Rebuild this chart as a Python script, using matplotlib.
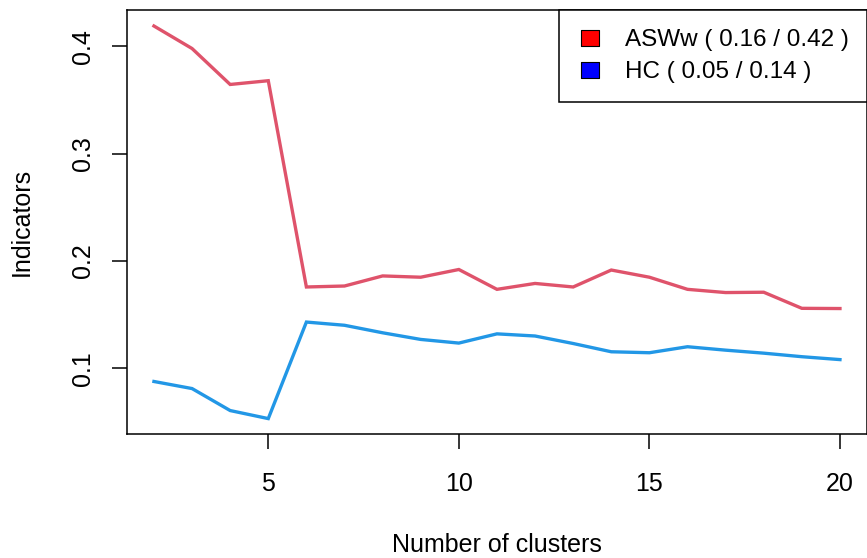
import matplotlib
matplotlib.use("Agg")
import matplotlib.pyplot as plt
from matplotlib.lines import Line2D
from matplotlib.path import Path

plt.rcParams['font.family'] = ['Liberation Sans', 'DejaVu Sans']

# Number of clusters evaluated
clusters = list(range(2, 21))

# Average silhouette width (weighted)
asww = [0.419, 0.398, 0.3645, 0.368, 0.1757, 0.1766, 0.186, 0.1848, 0.1920,
        0.1735, 0.1790, 0.1757, 0.1915, 0.1848, 0.1735, 0.1705, 0.1708,
        0.1558, 0.1556]

# Hubert's C
hc = [0.0876, 0.0810, 0.0605, 0.0530, 0.1430, 0.1400, 0.1330, 0.1268, 0.1234,
      0.1320, 0.1300, 0.1230, 0.1153, 0.1144, 0.1200, 0.1168, 0.1140,
      0.1107, 0.1080]

x_ticks = [5, 10, 15, 20]
y_ticks = [0.1, 0.2, 0.3, 0.4]

line_cols = ['#DF536B', '#2297E6']
legend_cols = ['#FF0000', '#0000FF']
labels = [f"ASWw ( {min(asww):.2f} / {max(asww):.2f} )",
          f"HC ( {min(hc):.2f} / {max(hc):.2f} )"]

W, H = 867, 558
fig = plt.figure(figsize=(W / 100, H / 100), dpi=100)
left, right, top, bottom = 126.5, 867.4, 10.3, 434.3
ax = fig.add_axes([left / W, 1 - bottom / H, (right - left) / W, (bottom - top) / H])

ax.plot(clusters, asww, color=line_cols[0], lw=2.4, solid_joinstyle='miter')
ax.plot(clusters, hc, color=line_cols[1], lw=2.4, solid_joinstyle='miter')

# R-style 4% padding on both axes
def padded(vals):
    lo, hi = min(vals), max(vals)
    d = (hi - lo) * 0.04
    return lo - d, hi + d

ax.set_xlim(*padded(clusters))
ax.set_ylim(*padded(asww + hc))

ax.set_xticks(x_ticks)
ax.set_xticklabels([str(t) for t in x_ticks])
ax.set_yticks(y_ticks)
ax.set_yticklabels([f"{t:.1f}" for t in y_ticks], rotation=90, va='center')

for s in ax.spines.values():
    s.set_linewidth(1.1)
    s.set_color('black')

ax.tick_params(axis='both', direction='out', length=11, width=1.1,
               labelsize=18, colors='black')
ax.tick_params(axis='x', pad=16.5)
ax.tick_params(axis='y', pad=12)

ax.set_xlabel("Number of clusters", fontsize=18, labelpad=0)
ax.xaxis.set_label_coords(0.5, -(552 - bottom) / (bottom - top), transform=ax.transAxes)
ax.xaxis.label.set_va('baseline')
ax.set_ylabel("Indicators", fontsize=18)
ax.yaxis.set_label_coords(-(left - 22) / (right - left), 0.5)
ax.yaxis.label.set_va('center')

# Legend with filled rectangular keys
rect = Path([(-0.6, -0.5), (0.6, -0.5), (0.6, 0.5), (-0.6, 0.5), (-0.6, -0.5)],
            [Path.MOVETO, Path.LINETO, Path.LINETO, Path.LINETO, Path.CLOSEPOLY])
handles = [Line2D([], [], linestyle='none', marker=rect, markersize=13.5,
                  markerfacecolor=c, markeredgecolor='black', markeredgewidth=0.8)
           for c in legend_cols]
leg = ax.legend(handles, labels, loc='upper right', borderaxespad=0,
                fontsize=17.5, frameon=True, fancybox=False, framealpha=1,
                edgecolor='black', borderpad=0.78, labelspacing=0.41,
                handlelength=0.99, handletextpad=0.92)
leg.get_frame().set_linewidth(1.1)

fig.savefig("out.png", dpi=100)
